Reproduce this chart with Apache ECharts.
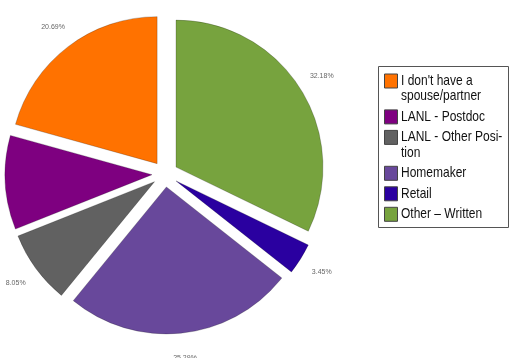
<!DOCTYPE html>
<html><head><meta charset="utf-8">
<script src="https://cdn.jsdelivr.net/npm/echarts@6/dist/echarts.min.js"></script>
<style>html,body{margin:0;padding:0;background:#fff}#c{width:509px;height:358px}</style>
</head><body><div id="c"></div>
<script>
const categories = ["I don't have a spouse/partner", "LANL - Postdoc", "LANL - Other Position", "Homemaker", "Retail", "Other \u2013 Written"];
const legendLines = [["I don't have a", "spouse/partner"], ["LANL - Postdoc"], ["LANL - Other Posi-", "tion"], ["Homemaker"], ["Retail"], ["Other \u2013 Written"]];
const values = [20.69, 10.34, 8.05, 25.29, 3.45, 32.18];
const pctLabels = ["20.69%", "", "8.05%", "25.29%", "3.45%", "32.18%"];
const colors = ["#FF7200", "#7E0080", "#616161", "#68489B", "#2A00A0", "#77A33E"];

const chart = echarts.init(document.getElementById('c'), null, {renderer: 'canvas'});
const cx = 165, cy = 174, R = 147, OFF = 13;

const data = values.map((v, i) => ({name: categories[i], value: v, selected: true, itemStyle: {color: colors[i]}}));
const labelData = values.map((v, i) => ({name: categories[i], value: v, selected: true, label: {formatter: pctLabels[i]}}));

// legend via graphic
const g = [];
g.push({type: 'rect', shape: {x: 378.5, y: 66.5, width: 130, height: 161}, style: {fill: '#fff', stroke: '#555', lineWidth: 1}});
let y = 81;
legendLines.forEach((lines, i) => {
  g.push({type: 'rect', shape: {x: 384.5, y: y - 7, width: 13, height: 14}, style: {fill: colors[i], stroke: '#444', lineWidth: 1}});
  g.push({type: 'text', x: 401, y: y - 7.7, scaleY: 1.2, originY: 0, style: {text: lines.join('\n'), font: '12px "Liberation Sans", Arial, sans-serif', fill: '#111', verticalAlign: 'top', lineHeight: 12.8}});
  y += 20.5 + 15.4 * (lines.length - 1);
});

chart.setOption({
  animation: false,
  series: [
    {
      type: 'pie', center: [cx, cy], radius: [0, R], startAngle: 90, clockwise: false,
      selectedMode: 'multiple', selectedOffset: OFF, silent: true,
      itemStyle: {borderColor: 'rgba(0,0,0,0.35)', borderWidth: 0.6},
      label: {show: false}, labelLine: {show: false},
      data: data
    },
    {
      type: 'pie', center: [cx, cy], radius: [R + 10, R + 34], startAngle: 90, clockwise: false,
      selectedMode: 'multiple', selectedOffset: OFF, silent: true,
      itemStyle: {color: 'rgba(0,0,0,0)'},
      label: {show: true, position: 'inside', color: '#666', fontSize: 7, fontFamily: '"Liberation Sans", Arial, sans-serif'},
      labelLine: {show: false},
      data: labelData
    }
  ],
  graphic: g
});
</script></body></html>
